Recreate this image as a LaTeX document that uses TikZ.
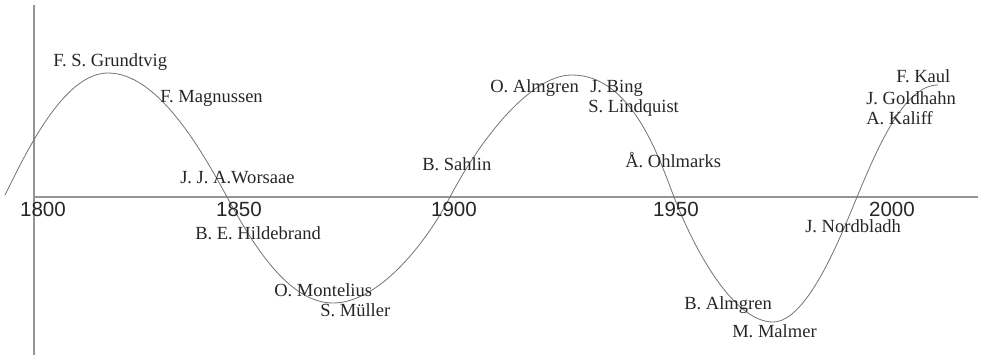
\documentclass[tikz,border=0pt]{standalone}
\usepackage{fontspec}
\setmainfont{Liberation Serif}
\newfontfamily\numfont{Liberation Sans}
\begin{document}
\begin{tikzpicture}[x=0.75pt,y=-0.75pt,
  axisline/.style={draw=black!42,line width=0.9pt},
  wave/.style={draw=black!55,line width=0.6pt},
  pname/.style={anchor=base west,inner sep=0pt,font=\fontsize{13.9}{16}\selectfont,text=black!85},
  yearlbl/.style={anchor=base,inner sep=0pt,font=\numfont\fontsize{15.4}{18}\selectfont,text=black!85}]
\useasboundingbox (0,0) rectangle (983,359);
% axes
\coordinate (vtop) at (34,5);
\coordinate (vbot) at (34,355);
\coordinate (hl) at (34,197);
\coordinate (hr) at (978,197);
\draw[axisline] (vtop) -- (vbot);
\draw[axisline] (hl) -- (hr);
% wave
\coordinate (wstart) at (5,195);
\coordinate (wend) at (938,85);
\draw[wave] (wstart) .. controls (25,155) and (63,73) .. (108,73)
  .. controls (158,73) and (202,151) .. (227,197)
  .. controls (252,243) and (288,303) .. (333,303)
  .. controls (378,303) and (425,245) .. (450,197)
  .. controls (475,149) and (527,75) .. (572,75)
  .. controls (632,75) and (659,158) .. (674,197)
  .. controls (696,254) and (735,322) .. (773,322)
  .. controls (808,322) and (842,233) .. (857,197)
  .. controls (879,144) and (905,85) .. (wend);
% years
\node[yearlbl] (y1800) at (43,217) {1800};
\node[yearlbl] (y1850) at (239,217) {1850};
\node[yearlbl] (y1900) at (454,217) {1900};
\node[yearlbl] (y1950) at (676,217) {1950};
\node[yearlbl] (y2000) at (892,217) {2000};
% names
\node[pname] (grundtvig) at (53,67) {F. S. Grundtvig};
\node[pname] (magnussen) at (160,103) {F. Magnussen};
\node[pname] (worsaae) at (180,184) {J. J. A.Worsaae};
\node[pname] (hildebrand) at (195,240) {B. E. Hildebrand};
\node[pname] (montelius) at (274,297) {O. Montelius};
\node[pname] (muller) at (320,317) {S. Müller};
\node[pname] (sahlin) at (422,171) {B. Sahlin};
\node[pname] (oalmgren) at (490,93) {O. Almgren};
\node[pname] (bing) at (590,93) {J. Bing};
\node[pname] (lindquist) at (588,113) {S. Lindquist};
\node[pname] (ohlmarks) at (625,168) {Å. Ohlmarks};
\node[pname] (kaul) at (896,83) {F. Kaul};
\node[pname] (goldhahn) at (866,105) {J. Goldhahn};
\node[pname] (kaliff) at (866,125) {A. Kaliff};
\node[pname] (nordbladh) at (805,233) {J. Nordbladh};
\node[pname] (balmgren) at (684,310) {B. Almgren};
\node[pname] (malmer) at (732,338) {M. Malmer};
\end{tikzpicture}
\end{document}
